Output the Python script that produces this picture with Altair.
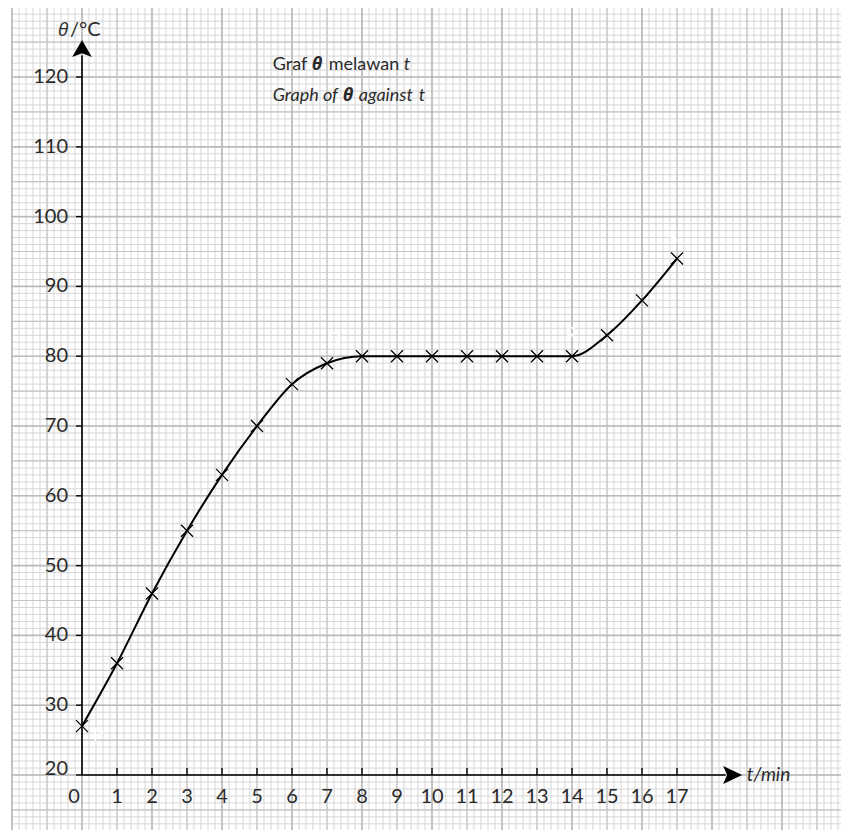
import altair as alt
import numpy as np
import pandas as pd

# ---- data ----
t_min = list(range(18))
theta = [27, 36, 46, 55, 63, 70, 76, 79, 80, 80, 80, 80, 80, 80, 80, 83, 88, 94]
x_tick_values = list(range(1, 18))
y_tick_values = list(range(30, 121, 10))
point_letters = ["P", "Q", "R", "S"]
letter_t = [0, 7, 14, 17]

FONT = "Lato, 'Open Sans', sans-serif"
GREEK = "'Open Sans', 'Noto Sans', sans-serif"
TXT = "#2a2a2a"

W, H = 830, 822
X_DOM = [-2.0286, 21.686]
Y_DOM = [12.12, 129.89]
xs = alt.Scale(domain=X_DOM, nice=False, zero=False)
ys = alt.Scale(domain=Y_DOM, nice=False, zero=False)


def X(f):
    return alt.X(f, type="quantitative", scale=xs, axis=None)


def Y(f):
    return alt.Y(f, type="quantitative", scale=ys, axis=None)


# ---- graph paper ----
minor_t = np.round(np.arange(-2, 21.7, 0.2), 3)
minor_v = np.arange(13, 130.5, 1.0)
mid_t = np.arange(-1, 21.7, 2.0)
mid_v = np.arange(15, 130.5, 10.0)
major_t = np.arange(-2, 21.7, 2.0)
major_v = np.arange(20, 130.5, 10.0)


def vrules(vals, color, w):
    return alt.Chart(pd.DataFrame({"t": vals})).mark_rule(color=color, strokeWidth=w).encode(x=X("t"))


def hrules(vals, color, w):
    return alt.Chart(pd.DataFrame({"v": vals})).mark_rule(color=color, strokeWidth=w).encode(y=Y("v"))


grid = [
    vrules(minor_t, "#d6d6d6", 1), hrules(minor_v, "#d6d6d6", 1),
    vrules(mid_t, "#c6c6c6", 1.2), hrules(mid_v, "#c6c6c6", 1.2),
    vrules(major_t, "#bababa", 1.6), hrules(major_v, "#bababa", 1.6),
]

# ---- axes ----
Y_ARROW = 124.1
X_ARROW = 18.59
yaxis = alt.Chart(pd.DataFrame({"t": [0], "a": [20], "b": [Y_ARROW - 1.0]})).mark_rule(
    color="black", strokeWidth=1.6).encode(x=X("t"), y=Y("a"), y2="b")
xaxis = alt.Chart(pd.DataFrame({"v": [20], "a": [0], "b": [X_ARROW - 0.2]})).mark_rule(
    color="black", strokeWidth=1.6).encode(y=Y("v"), x=X("a"), x2="b")
yarrow = alt.Chart(pd.DataFrame({"t": [0], "v": [Y_ARROW]})).mark_point(
    shape="M 0 -0.85 L 0.98 0.85 L 0 0.48 L -0.98 0.85 Z", size=400, filled=True,
    color="black", opacity=1, strokeWidth=0).encode(x=X("t"), y=Y("v"))
xarrow = alt.Chart(pd.DataFrame({"t": [X_ARROW], "v": [20]})).mark_point(
    shape="M 0.95 0 L -0.95 -0.9 L -0.55 0 L -0.95 0.9 Z", size=400, filled=True,
    color="black", opacity=1, strokeWidth=0).encode(x=X("t"), y=Y("v"))

ytick_df = pd.DataFrame({"v": [20] + y_tick_values, "a": -0.17, "b": 0.0})
yticks = alt.Chart(ytick_df).mark_rule(color="black", strokeWidth=1.4).encode(
    y=Y("v"), x=X("a"), x2="b")
xtick_df = pd.DataFrame({"t": x_tick_values, "a": 20.0, "b": 21.0})
xticks = alt.Chart(xtick_df).mark_rule(color="black", strokeWidth=1.4).encode(
    x=X("t"), y=Y("a"), y2="b")

lab_style = dict(font=FONT, fontSize=20, fontWeight=400, color=TXT)
ylabels = alt.Chart(pd.DataFrame({"v": y_tick_values, "z": 0.0})).mark_text(
    align="right", baseline="middle", dx=-14, **lab_style).encode(
    x=X("z"), y=Y("v"), text="v:N")
ylabel20 = alt.Chart(pd.DataFrame({"v": [20], "z": 0.0})).mark_text(
    align="right", baseline="middle", dx=-14, dy=-6, **lab_style).encode(
    x=X("z"), y=Y("v"), text="v:N")
xlabels = alt.Chart(pd.DataFrame({"t": x_tick_values, "z": 20.0})).mark_text(
    align="center", baseline="middle", dy=22, **lab_style).encode(
    x=X("t"), y=Y("z"), text="t:N")
xlabel0 = alt.Chart(pd.DataFrame({"t": [0], "z": 20.0})).mark_text(
    align="center", baseline="middle", dy=22, dx=-8, **lab_style).encode(
    x=X("t"), y=Y("z"), text="t:N")

# axis titles
ytitle_theta = alt.Chart(pd.DataFrame({"t": [0], "v": [126.7], "s": ["θ"]})).mark_text(
    align="left", baseline="middle", dx=-24, font=GREEK, fontSize=19, fontStyle="italic",
    fontWeight=500, color=TXT).encode(x=X("t"), y=Y("v"), text="s:N")
ytitle_unit = alt.Chart(pd.DataFrame({"t": [0], "v": [126.7], "s": ["/°C"]})).mark_text(
    align="left", baseline="middle", dx=-12, font=FONT, fontSize=20, fontWeight=400,
    color=TXT).encode(x=X("t"), y=Y("v"), text="s:N")
xtitle = alt.Chart(pd.DataFrame({"t": [X_ARROW], "v": [20], "s": ["t/min"]})).mark_text(
    align="left", baseline="middle", dx=14, font=FONT, fontSize=19, fontWeight=400,
    fontStyle="italic", color=TXT).encode(x=X("t"), y=Y("v"), text="s:N")

# ---- chart title (two lines, mixed styles) ----
TITLE_T = 5.45
segments = [
    ("Graf", 121.7, 0, "normal", 400, FONT),
    ("θ", 121.7, 39, "italic", 700, GREEK),
    ("melawan", 121.7, 56, "normal", 400, FONT),
    ("t", 121.7, 131, "italic", 400, FONT),
    ("Graph of", 117.3, 0, "italic", 400, FONT),
    ("θ", 117.3, 70, "italic", 700, GREEK),
    ("against", 117.3, 86, "italic", 400, FONT),
    ("t", 117.3, 146, "italic", 400, FONT),
]
title_layers = []
for s, v, dx, style, wt, fnt in segments:
    title_layers.append(
        alt.Chart(pd.DataFrame({"t": [TITLE_T], "v": [v], "s": [s]})).mark_text(
            align="left", baseline="middle", dx=dx, font=fnt, fontSize=18,
            fontStyle=style, fontWeight=wt, color=TXT).encode(
            x=X("t"), y=Y("v"), text="s:N"))

# ---- curve and crosses ----
df = pd.DataFrame({"t": t_min, "theta": theta})
curve = alt.Chart(df).mark_line(color="black", strokeWidth=2, interpolate="monotone").encode(
    x=X("t"), y=Y("theta"))
crosses = alt.Chart(df).mark_point(
    shape="M -1 -1 L 1 1 M -1 1 L 1 -1", size=144, filled=False, color="black",
    opacity=1, strokeWidth=1.3).encode(x=X("t"), y=Y("theta"))

# faint white point letters
letter_offsets = {"P": (16, 10), "Q": (7, -23), "R": (-1, -21), "S": (-4, -20)}
letter_layers = []
for name, tt in zip(point_letters, letter_t):
    dx, dy = letter_offsets[name]
    letter_layers.append(
        alt.Chart(pd.DataFrame({"t": [tt], "v": [theta[tt]], "s": [name]})).mark_text(
            align="center", baseline="middle", dx=dx, dy=dy, font=FONT, fontSize=17,
            color="white").encode(x=X("t"), y=Y("v"), text="s:N"))

chart = alt.layer(
    *grid, yaxis, xaxis, yticks, xticks, yarrow, xarrow,
    ylabels, ylabel20, xlabels, xlabel0, ytitle_theta, ytitle_unit, xtitle,
    *title_layers, curve, crosses, *letter_layers,
).properties(
    width=W, height=H,
    autosize=alt.AutoSizeParams(type="none"),
    padding={"left": 3, "top": 0, "right": 0, "bottom": 0},
    background="white",
).configure_view(stroke=None)

chart.save("out.html", embed_options={"renderer": "svg", "actions": False})
